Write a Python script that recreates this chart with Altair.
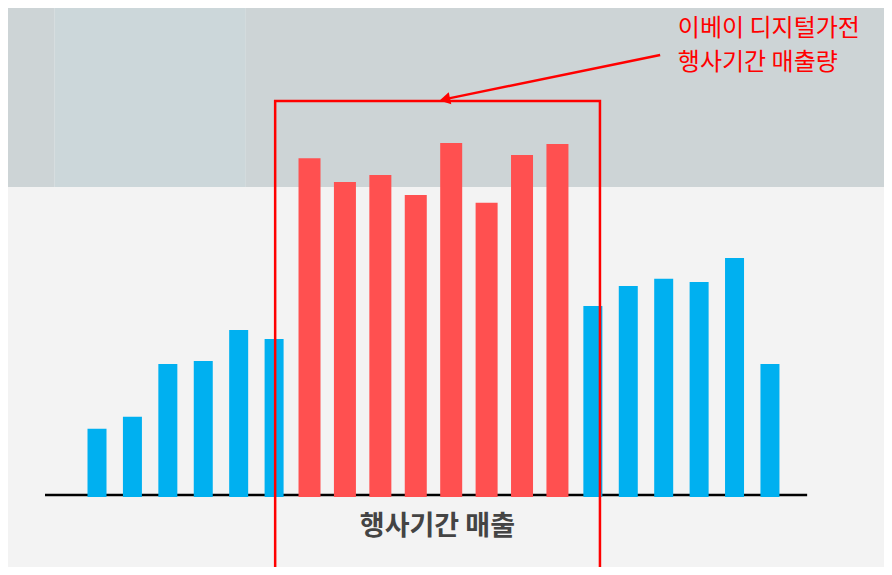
import altair as alt
import pandas as pd

# ---- data ----
periods = list(range(1, 21))
sales = [18.8, 22.2, 37.2, 38.1, 46.9, 44.3,
         95.7, 88.9, 90.9, 85.2, 100.0, 83.0, 96.6, 99.7,
         53.7, 59.4, 61.4, 60.5, 67.3, 37.2]
groups = ["before"] * 6 + ["event"] * 8 + ["after"] * 6

annot_lines = ["이베이 디지털가전", "행사기간 매출량"]
label_text = "행사기간 매출"

df = pd.DataFrame({"period": periods, "sales": sales, "group": groups})

W, H = 876, 559
XD = [-1.513, 23.22]
YD = [-(H - 487) / 3.52, 138.35]
xs = alt.Scale(domain=XD, nice=False, zero=False, padding=0)
ys = alt.Scale(domain=YD, nice=False, zero=False, padding=0)

# background photo band (top)
band = pd.DataFrame({
    "x": [-3.0, -0.2, 5.2],
    "x2": [-0.2, 5.2, 25.0],
    "y": [87.5, 87.5, 87.5],
    "y2": [150.0, 150.0, 150.0],
    "c": ["#cdd4d6", "#ccd7da", "#cdd4d6"],
})
band_layer = alt.Chart(band).mark_rect(clip=True).encode(
    x=alt.X("x:Q", scale=xs, axis=None),
    x2="x2",
    y=alt.Y("y:Q", scale=ys, axis=None),
    y2="y2",
    color=alt.Color("c:N", scale=None),
)

# baseline
base = pd.DataFrame({"x": [-0.468], "x2": [21.05], "y": [0.0]})
base_layer = alt.Chart(base).mark_rule(color="black", strokeWidth=2.5).encode(
    x=alt.X("x:Q", scale=xs, axis=None), x2="x2",
    y=alt.Y("y:Q", scale=ys, axis=None),
)

bars_blue = alt.Chart(df).transform_filter("datum.group != 'event'").transform_calculate(
    b="-0.6").mark_bar(width=19, color="#00b0f0").encode(
    x=alt.X("period:Q", scale=xs, axis=None),
    y=alt.Y("sales:Q", scale=ys, axis=None),
    y2="b:Q",
)
bars_red = alt.Chart(df).transform_filter("datum.group == 'event'").transform_calculate(
    b="-0.6").mark_bar(width=22, color="#ff5050").encode(
    x=alt.X("period:Q", scale=xs, axis=None),
    y=alt.Y("sales:Q", scale=ys, axis=None),
    y2="b:Q",
)

# highlight box
box = pd.DataFrame({"x": [6.03], "x2": [15.2], "y": [111.9], "y2": [-40.0]})
box_layer = alt.Chart(box).mark_rect(fill=None, fillOpacity=0, stroke="#ff0000",
                                     strokeWidth=2.5, clip=True).encode(
    x=alt.X("x:Q", scale=xs, axis=None), x2="x2",
    y=alt.Y("y:Q", scale=ys, axis=None), y2="y2",
)

# arrow
arrow = pd.DataFrame({"x": [16.9], "y": [125.0], "x2": [10.9], "y2": [112.6]})
arrow_line = alt.Chart(arrow).mark_rule(color="#ff0000", strokeWidth=2.5).encode(
    x=alt.X("x:Q", scale=xs, axis=None), x2="x2",
    y=alt.Y("y:Q", scale=ys, axis=None), y2="y2",
)
head = pd.DataFrame({"x": [10.82], "y": [112.4]})
arrow_head = alt.Chart(head).mark_point(shape="triangle-up", filled=True, color="#ff0000",
                                        size=150, angle=258, opacity=1).encode(
    x=alt.X("x:Q", scale=xs, axis=None),
    y=alt.Y("y:Q", scale=ys, axis=None),
)

ann = pd.DataFrame({"t": annot_lines, "x": [17.40, 17.40], "y": [132.4, 122.8]})
ann_layer = alt.Chart(ann).mark_text(align="left", baseline="middle", color="#ff0000",
                                     font="Noto Sans CJK KR", fontSize=24).encode(
    x=alt.X("x:Q", scale=xs, axis=None),
    y=alt.Y("y:Q", scale=ys, axis=None),
    text="t:N",
)

lab = pd.DataFrame({"t": [label_text], "x": [10.61], "y": [-9.1]})
lab_layer = alt.Chart(lab).mark_text(align="center", baseline="middle", color="#444444",
                                     font="Noto Sans CJK KR", fontWeight="bold",
                                     fontSize=27).encode(
    x=alt.X("x:Q", scale=xs, axis=None),
    y=alt.Y("y:Q", scale=ys, axis=None),
    text="t:N",
)

chart = alt.layer(
    band_layer, base_layer, bars_blue, bars_red, box_layer, arrow_line, arrow_head,
    ann_layer, lab_layer
).properties(
    width=W, height=H, padding=0, autosize=alt.AutoSizeParams(type="none"),
    background="#f3f3f3",
).configure_view(stroke=None)

chart.save("out.html", embed_options={"renderer": "svg", "actions": False})
